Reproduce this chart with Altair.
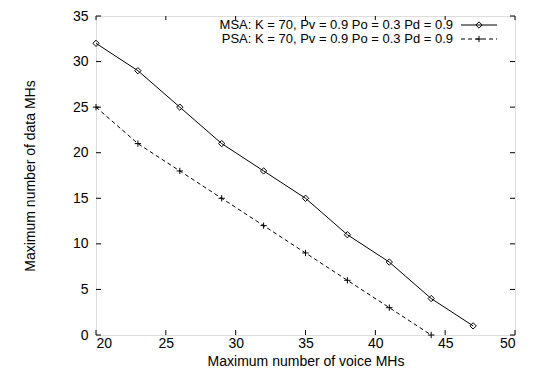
import altair as alt
import pandas as pd

msa_x = [20, 23, 26, 29, 32, 35, 38, 41, 44, 47]
msa_y = [32, 29, 25, 21, 18, 15, 11, 8, 4, 1]
psa_x = [20, 23, 26, 29, 32, 35, 38, 41, 44]
psa_y = [25, 21, 18, 15, 12, 9, 6, 3, 0]
x_ticks = [20, 25, 30, 35, 40, 45, 50]
y_ticks = [0, 5, 10, 15, 20, 25, 30, 35]
legend_labels = ["MSA: K = 70, Pv = 0.9 Po = 0.3 Pd = 0.9",
                 "PSA: K = 70, Pv = 0.9 Po = 0.3 Pd = 0.9"]

TOP = 8
W, H = 419, 327 - TOP
FONT = "Liberation Sans"
FS = 14
LFS = 13

msa = pd.DataFrame({"x": msa_x, "y": msa_y})
psa = pd.DataFrame({"x": psa_x, "y": psa_y})
xt = pd.DataFrame({"t": x_ticks})
yt = pd.DataFrame({"t": y_ticks})

xs = alt.Scale(domain=[20, 50], nice=False, zero=False)
ys = alt.Scale(domain=[0, 35], nice=False, zero=False)

xaxis = alt.Axis(values=x_ticks, title="Maximum number of voice MHs", grid=False,
                 domain=False, ticks=False, tickSize=0, labelPadding=1,
                 labelFont=FONT, labelFontSize=FS, labelColor="black",
                 titleFont=FONT, titleFontSize=FS, titleFontWeight="normal",
                 titleColor="black", titlePadding=4)
yaxis = alt.Axis(values=y_ticks, title="Maximum number of data MHs", grid=False,
                 domain=False, ticks=False, tickSize=0, labelPadding=8,
                 labelFont=FONT, labelFontSize=FS, labelColor="black",
                 titleFont=FONT, titleFontSize=FS, titleFontWeight="normal",
                 titleColor="black", titleX=-59, titleY=H / 2)

base_line = alt.Chart(msa).mark_line(color="black", strokeWidth=1).encode(
    x=alt.X("x:Q", scale=xs, axis=xaxis),
    y=alt.Y("y:Q", scale=ys, axis=yaxis),
)
msa_pts = alt.Chart(msa).mark_point(shape="diamond", filled=False, color="black",
                                    size=40, strokeWidth=1, opacity=1).encode(
    x=alt.X("x:Q", scale=xs), y=alt.Y("y:Q", scale=ys))

psa_line = alt.Chart(psa).mark_line(color="black", strokeWidth=1,
                                    strokeDash=[4, 3]).encode(
    x=alt.X("x:Q", scale=xs), y=alt.Y("y:Q", scale=ys))
plus = "M-1,0L1,0M0,-1L0,1"
psa_pts = alt.Chart(psa).mark_point(shape=plus, filled=False, color="black",
                                    size=40, strokeWidth=1, opacity=1).encode(
    x=alt.X("x:Q", scale=xs), y=alt.Y("y:Q", scale=ys))

TL = 5
TLT = 4
bt = alt.Chart(xt).mark_rule(color="black", strokeWidth=1).encode(
    x=alt.X("t:Q", scale=xs), y=alt.value(H), y2=alt.value(H - TL))
tt = alt.Chart(xt).mark_rule(color="black", strokeWidth=1).encode(
    x=alt.X("t:Q", scale=xs), y=alt.value(0), y2=alt.value(TLT))
lt = alt.Chart(yt).mark_rule(color="black", strokeWidth=1).encode(
    y=alt.Y("t:Q", scale=ys), x=alt.value(0), x2=alt.value(TL))
rt = alt.Chart(yt).mark_rule(color="black", strokeWidth=1).encode(
    y=alt.Y("t:Q", scale=ys), x=alt.value(W), x2=alt.value(W - TL))

R1 = 25 - 8 - TOP
R2 = 39 - 8 - TOP
leg = pd.DataFrame({"label": legend_labels})
leg1 = alt.Chart(leg.iloc[[0]]).mark_text(align="right", baseline="middle", font=FONT,
                                           fontSize=LFS, color="black").encode(
    text="label:N", x=alt.value(357), y=alt.value(R1))
leg2 = alt.Chart(leg.iloc[[1]]).mark_text(align="right", baseline="middle", font=FONT,
                                           fontSize=LFS, color="black").encode(
    text="label:N", x=alt.value(357), y=alt.value(R2))
legl1 = alt.Chart(leg.iloc[[0]]).mark_rule(color="black", strokeWidth=1).encode(
    x=alt.value(365), x2=alt.value(401), y=alt.value(R1))
legl2 = alt.Chart(leg.iloc[[1]]).mark_rule(color="black", strokeWidth=1,
                                           strokeDash=[4, 3]).encode(
    x=alt.value(365), x2=alt.value(401), y=alt.value(R2))
legp1 = alt.Chart(leg.iloc[[0]]).mark_point(shape="diamond", filled=False, color="black",
                                            size=40, strokeWidth=1, opacity=1).encode(
    x=alt.value(383), y=alt.value(R1))
legp2 = alt.Chart(leg.iloc[[1]]).mark_point(shape=plus, filled=False, color="black",
                                            size=40, strokeWidth=1, opacity=1).encode(
    x=alt.value(383), y=alt.value(R2))

chart = alt.layer(base_line, psa_line, msa_pts, psa_pts, bt, tt, lt, rt,
                  leg1, leg2, legl1, legl2, legp1, legp2).properties(
    width=W, height=H,
    autosize=alt.AutoSizeParams(type="none"),
    padding={"left": 88, "top": TOP, "right": 11, "bottom": 40},
).configure_view(stroke="black", strokeWidth=1).configure(background="white")

chart.save("out.html", embed_options={"renderer": "svg", "actions": False})
